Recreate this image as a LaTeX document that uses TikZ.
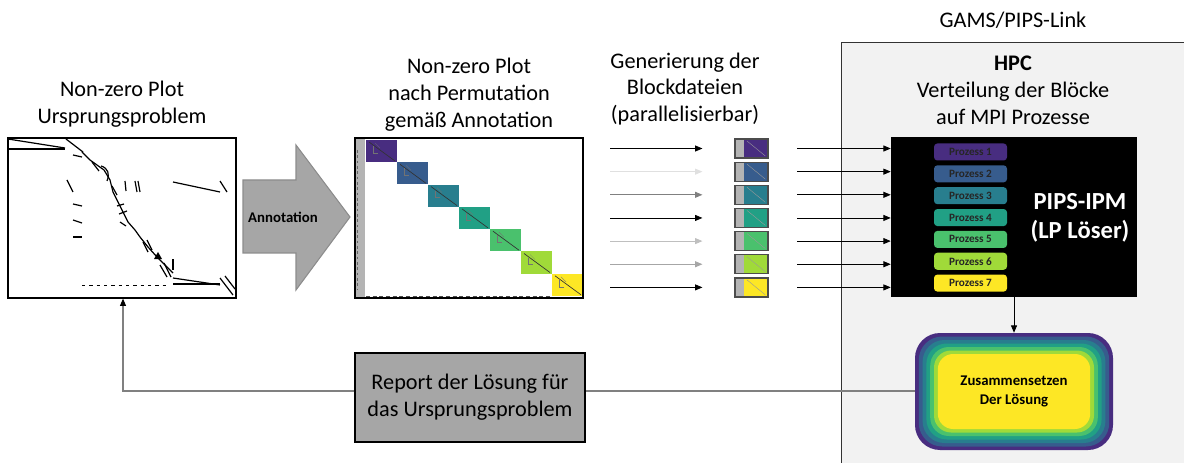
\documentclass[tikz,border=0pt]{standalone}
\usepackage{fontspec}
\setmainfont{Carlito}
\usetikzlibrary{arrows.meta,calc}
\definecolor{v1}{HTML}{482D80}
\definecolor{v2}{HTML}{375C8D}
\definecolor{v3}{HTML}{287E8E}
\definecolor{v4}{HTML}{21A085}
\definecolor{v5}{HTML}{4AC16D}
\definecolor{v6}{HTML}{A0DA39}
\definecolor{v7}{HTML}{FDE725}
\definecolor{panel}{HTML}{F2F2F2}
\definecolor{midgray}{HTML}{A6A6A6}
\definecolor{stripgray}{HTML}{B4B4B4}
\tikzset{
  title/.style={font=\fontsize{16.7}{20.2}\selectfont, align=center, inner sep=0pt},
  arr/.style={-{Triangle[length=5.5pt,width=4.5pt]}, line width=0.6pt},
  plotbox/.style={draw=black, line width=0.9pt, minimum width=171pt, minimum height=120pt, inner sep=0pt},
  sblock/.style={draw=black!70, line width=0.9pt, minimum width=24.75pt, minimum height=14.25pt, inner sep=0pt,
    path picture={\fill[stripgray] (path picture bounding box.south west) rectangle ([xshift=6.75pt]path picture bounding box.north west);
      \draw[black!40, line width=0.3pt] ([xshift=9pt,yshift=-1.5pt]path picture bounding box.north west) -- ([xshift=-2pt,yshift=1.5pt]path picture bounding box.south east);}},
  proc/.style={rounded corners=2.5pt, minimum width=54.75pt, minimum height=12.75pt, inner sep=0pt,
    font=\bfseries\fontsize{8.4}{10}\selectfont, text=black!85},
  plotline/.style={line width=0.9pt, black},
}
\begin{document}
\begin{tikzpicture}[x=0.75pt,y=-0.75pt]
\useasboundingbox (0,0) rectangle (1184,463);

% right panel
\node[draw=black!80, line width=1pt, fill=panel, minimum width=270pt, minimum height=321pt, anchor=north west, inner sep=0pt] (panel) at (841,42) {};
\node[title] (gams) at (1013,20) {GAMS/PIPS-Link};
\node[title] (hpctitle) at (1013,90) {\textbf{HPC}\\Verteilung der Blöcke\\auf MPI Prozesse};

% titles
\node[title] (t1) at (122,104) {Non-zero Plot\\Ursprungsproblem};
\node[title] (t2) at (469,95) {Non-zero Plot\\nach Permutation\\gemäß Annotation};
\node[title] (t3) at (685,89) {Generierung der\\Blockdateien\\(parallelisierbar)};

% left plot
\node[plotbox] (plot1) at (122,218) {};
\begin{scope}[plotline]
\draw (8,139) -- (65,148);
\draw (8,149) -- (65,149);
\draw (66,139) -- (83,152);
\draw (73,155) -- (82,157);
\draw (82,152) -- (90,160) -- (97,165) -- (104,170) -- (110,180) -- (113,192) -- (117,200) -- (123,212) -- (128,222) -- (135,230) -- (140,237) -- (148,247) -- (157,257) -- (165,265) -- (173,273);
\draw (92,162) -- (99,171);
\draw (101,166) .. controls (108,168) and (110,174) .. (107,181);
\draw (112,186) -- (117,195);
\draw (173,182) -- (220,192);
\draw (220,181) -- (227,192);
\draw (67,180) -- (73,192);
\draw (73,204) -- (82,206);
\draw (73,220) -- (82,223);
\draw (73,237) -- (82,237);
\draw (125,181) -- (126,191);
\draw (135,181) -- (137,192);
\draw (138,181) -- (140,192);
\draw (117,206) -- (124,204);
\draw (119,214) -- (127,211);
\draw (120,222) -- (126,226);
\draw (143,242) -- (148,252);
\draw (147,240) -- (152,250);
\draw (160,265) -- (167,277);
\draw (164,263) -- (171,277);
\draw (173,259) -- (173,270);
\draw (173,278) -- (220,285);
\draw (173,284) -- (220,284);
\draw (220,278) -- (233,295);
\draw (225,276) -- (235,289);
\fill (154,259) -- (158,252) -- (162,259) -- cycle;
\draw[dash pattern=on 2.5pt off 3pt, line width=0.7pt] (82,285) -- (168,285);
\end{scope}

% big arrow
\draw[fill=midgray, draw=black!45, line width=0.8pt] (243,180) -- (296,180) -- (296,145) -- (350,217) -- (296,290) -- (296,253) -- (243,253) -- cycle;
\node[font=\bfseries\fontsize{11.1}{13}\selectfont] (annot) at (283,217) {Annotation};

% middle plot
\fill[stripgray] (355,138) rectangle (365,298);
\foreach \c [count=\i from 0] in {v1,v2,v3,v4,v5,v6,v7} {
  \pgfmathsetmacro\xa{366+31*\i}
  \pgfmathsetmacro\ya{140+22.3*\i}
  \fill[\c] (\xa,\ya) rectangle +(31,22);
  \draw[line width=0.5pt, black!80] ({\xa+3},{\ya+2}) -- ({\xa+29},{\ya+21});
  \draw[line width=0.25pt, black!55] ({\xa+7},{\ya+6}) -- ({\xa+7},{\ya+13}) -- ({\xa+12},{\ya+13});
  \draw[line width=0.25pt, black!55] ({\xa+9},{\ya+3}) -- ({\xa+14},{\ya+8});
}
\draw[dash pattern=on 2pt off 2pt, line width=0.4pt, black!60] (357,150) -- (357,290);
\draw[dash pattern=on 3pt off 2pt, line width=0.4pt, black!70] (366,296) -- (550,296);
\node[plotbox] (plot2) at (469,218) {};

% black HPC box
\node[fill=black, minimum width=184.5pt, minimum height=120pt, inner sep=0pt] (hpcbox) at (1014,217) {};
\foreach \c [count=\i] in {v1,v2,v3,v4,v5,v6,v7} {
  \pgfmathsetmacro\yp{152+21.85*(\i-1)}
  \node[proc, fill=\c] (p\i) at (970.5,\yp) {Prozess \i};
}
\node[font=\bfseries\fontsize{18.4}{22}\selectfont, text=white, align=center] (pips) at (1080,218) {PIPS-IPM\\(LP Löser)};

% small blocks and arrows
\foreach \c/\ac [count=\i] in {v1/black, v2/black!12, v3/black!50, v4/black, v5/black!25, v6/black!35, v7/black} {
  \pgfmathsetmacro\ys{148.5+23.15*(\i-1)}
  \node[sblock, fill=\c] (s\i) at (751.5,\ys) {};
  \coordinate (a\i) at (610,\ys);
  \draw[arr, draw=\ac] (a\i) -- (s\i.west) [shorten >=24pt];
  \draw[arr, shorten <=21.5pt] (s\i.east) -- (s\i.east -| hpcbox.west);
}

% solution box
\foreach \c [count=\i from 0] in {v1,v2,v3,v4,v5,v6,v7} {
  \pgfmathsetmacro\r{(25-1.6*\i)*0.75}
  \fill[\c, rounded corners=\r pt] ({915+3.8*\i},{333+3.5*\i}) rectangle ({1113-3.8*\i},{450-3.5*\i});
}
\node[minimum width=148.5pt, minimum height=87.75pt, inner sep=0pt, align=center, font=\bfseries\fontsize{11.1}{14.2}\selectfont] (sol) at (1014,391.5) {Zusammensetzen\\Der Lösung};
\draw[arr] (hpcbox.south) -- (sol.north);

% report box
\node[draw=black, line width=0.9pt, fill=midgray, minimum width=172.5pt, minimum height=66.75pt, inner sep=0pt, align=center, font=\fontsize{16.7}{20.2}\selectfont] (report) at (470,397.5) {Report der Lösung für\\das Ursprungsproblem};

\draw[black!50, line width=0.8pt] (sol.west |- 0,391) -- (report.east |- 0,391);
\coordinate (corner) at (123,391);
\draw[black!50, line width=0.8pt, -{Triangle[length=5.5pt,width=4.5pt,fill=black,color=black]}] (report.west |- 0,391) -- (corner) -- (plot1.south -| corner);
\end{tikzpicture}
\end{document}
